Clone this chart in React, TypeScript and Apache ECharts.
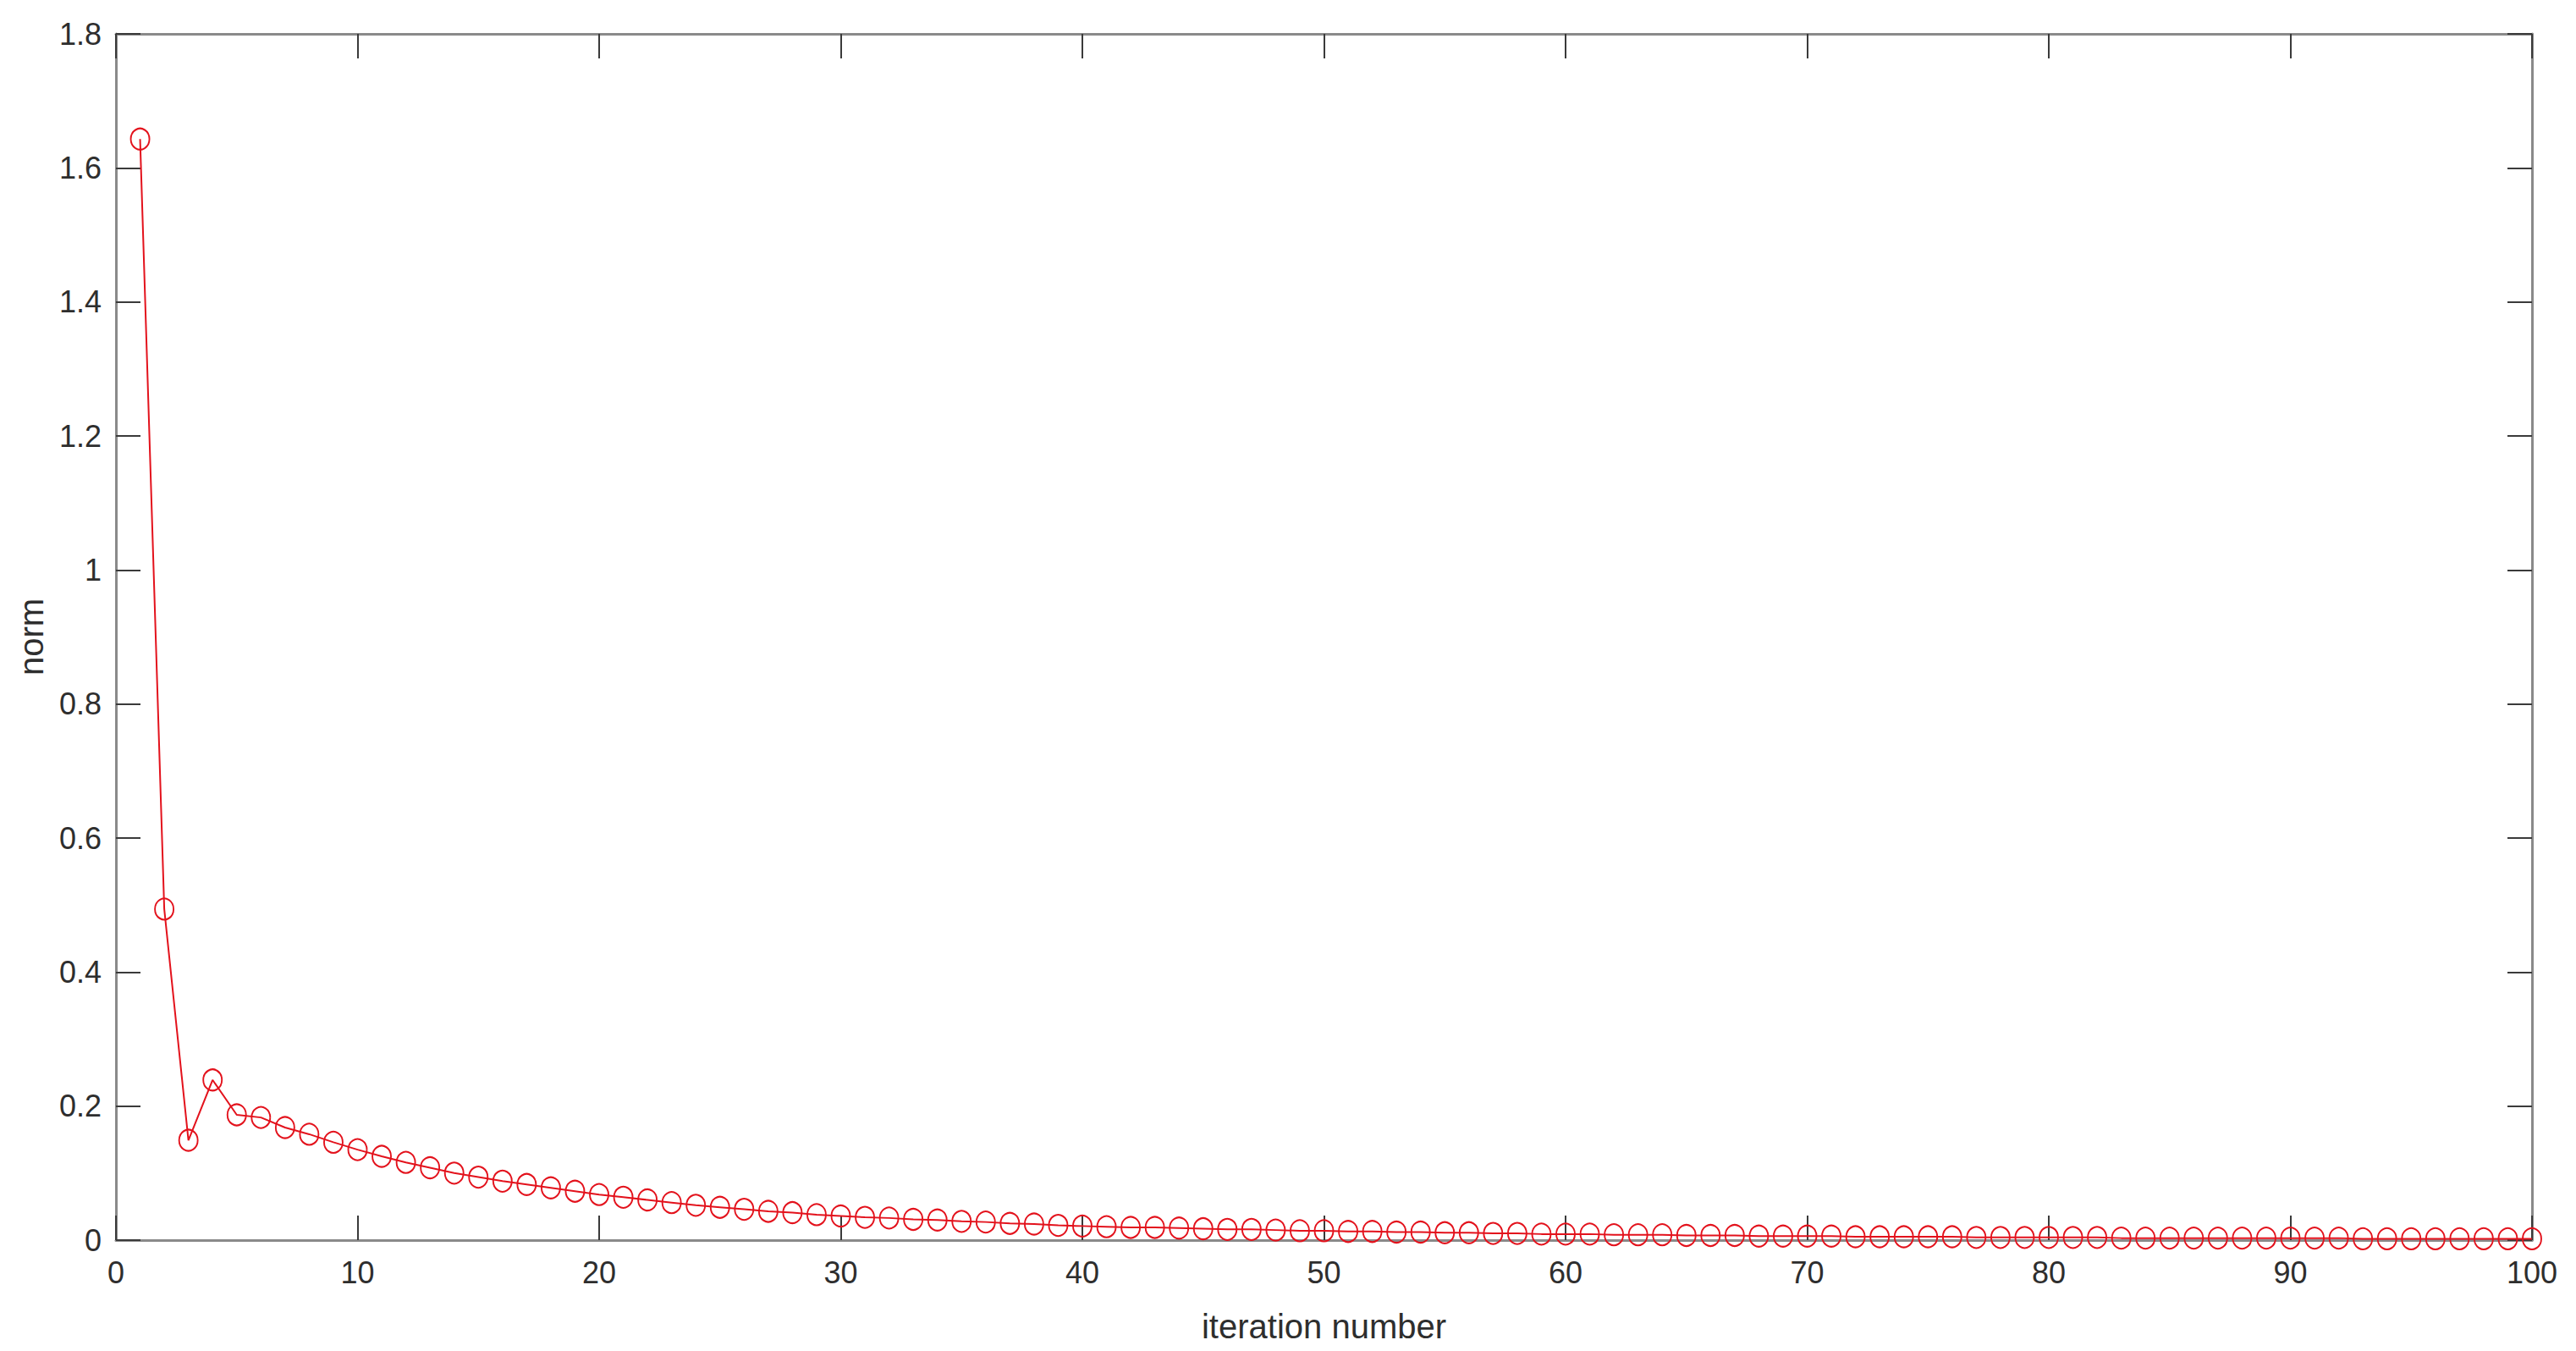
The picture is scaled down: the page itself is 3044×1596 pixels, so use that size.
import React, { useEffect, useRef } from "react";
import * as echarts from "echarts";

const iterations: number[] = Array.from({ length: 100 }, (_, i) => i + 1);

const normValues: number[] = [
  1.643, 0.494, 0.149, 0.239, 0.187, 0.183, 0.168, 0.158, 0.146, 0.135,
  0.125, 0.116, 0.108, 0.1, 0.094, 0.088, 0.083, 0.078, 0.073, 0.068,
  0.064, 0.06, 0.056, 0.052, 0.049, 0.046, 0.043, 0.041, 0.038, 0.036,
  0.034, 0.033, 0.031, 0.03, 0.028, 0.027, 0.025, 0.024, 0.022, 0.021,
  0.02, 0.019, 0.019, 0.018, 0.017, 0.016, 0.016, 0.015, 0.014, 0.014,
  0.013, 0.013, 0.012, 0.012, 0.011, 0.011, 0.01, 0.01, 0.009, 0.009,
  0.009, 0.008, 0.008, 0.008, 0.007, 0.007, 0.007, 0.006, 0.006, 0.006,
  0.006, 0.005, 0.005, 0.005, 0.005, 0.005, 0.004, 0.004, 0.004, 0.004,
  0.004, 0.004, 0.003, 0.003, 0.003, 0.003, 0.003, 0.003, 0.003, 0.003,
  0.003, 0.003, 0.002, 0.002, 0.002, 0.002, 0.002, 0.002, 0.002, 0.002,
];

const xAxisName = "iteration number";
const yAxisName = "norm";

const AXIS_COLOR = "#8a8a8a";
const TICK_COLOR = "#3a3a3a";
const TEXT_COLOR = "#2e2e2e";
const RED = "#e3121c";
const FONT = "'Liberation Sans', Arial, Helvetica, sans-serif";

export default function App() {
  const ref = useRef<HTMLDivElement>(null);

  useEffect(() => {
    if (!ref.current) return;
    const chart = echarts.init(ref.current, undefined, { renderer: "svg" });
    const boxAxisX = {
      type: "value",
      min: 0,
      max: 100,
      interval: 10,
      axisLine: { show: true, onZero: false, lineStyle: { color: AXIS_COLOR, width: 3 } },
      axisTick: { show: true, inside: true, length: 29, lineStyle: { color: TICK_COLOR, width: 2 } },
      splitLine: { show: false },
    };
    const boxAxisY = {
      type: "value",
      min: 0,
      max: 1.8,
      interval: 0.2,
      axisLine: { show: true, onZero: false, lineStyle: { color: AXIS_COLOR, width: 3 } },
      axisTick: { show: true, inside: true, length: 29, lineStyle: { color: TICK_COLOR, width: 2 } },
      splitLine: { show: false },
    };
    chart.setOption({
      animation: false,
      backgroundColor: "#ffffff",
      grid: { left: 137, right: 52, top: 40, bottom: 131, containLabel: false },
      xAxis: [
        {
          ...boxAxisX,
          position: "bottom",
          name: xAxisName,
          nameLocation: "middle",
          nameGap: 82,
          nameTextStyle: { color: TEXT_COLOR, fontSize: 40, fontFamily: FONT },
          axisLabel: { show: true, margin: 20, color: TEXT_COLOR, fontSize: 36, fontFamily: FONT },
        },
        {
          ...boxAxisX,
          position: "top",
          axisLabel: { show: false },
        },
      ],
      yAxis: [
        {
          ...boxAxisY,
          position: "left",
          name: yAxisName,
          nameLocation: "middle",
          nameGap: 80,
          nameRotate: 90,
          nameTextStyle: { color: TEXT_COLOR, fontSize: 40, fontFamily: FONT },
          axisLabel: { show: true, margin: 17, color: TEXT_COLOR, fontSize: 36, fontFamily: FONT },
        },
        {
          ...boxAxisY,
          position: "right",
          axisLabel: { show: false },
        },
      ],
      series: [
        {
          type: "line",
          xAxisIndex: 0,
          yAxisIndex: 0,
          data: iterations.map((x, i) => [x, normValues[i]]),
          symbol: "circle",
          symbolSize: [22, 25],
          showAllSymbol: true,
          lineStyle: { color: RED, width: 2 },
          itemStyle: { color: "rgba(0,0,0,0)", borderColor: RED, borderWidth: 2 },
          emphasis: { disabled: true },
        },
      ],
    });
    return () => chart.dispose();
  }, []);

  return (
    <div
      ref={ref}
      style={{ position: "fixed", left: 0, top: 0, width: 3044, height: 1596, background: "#fff" }}
    />
  );
}
